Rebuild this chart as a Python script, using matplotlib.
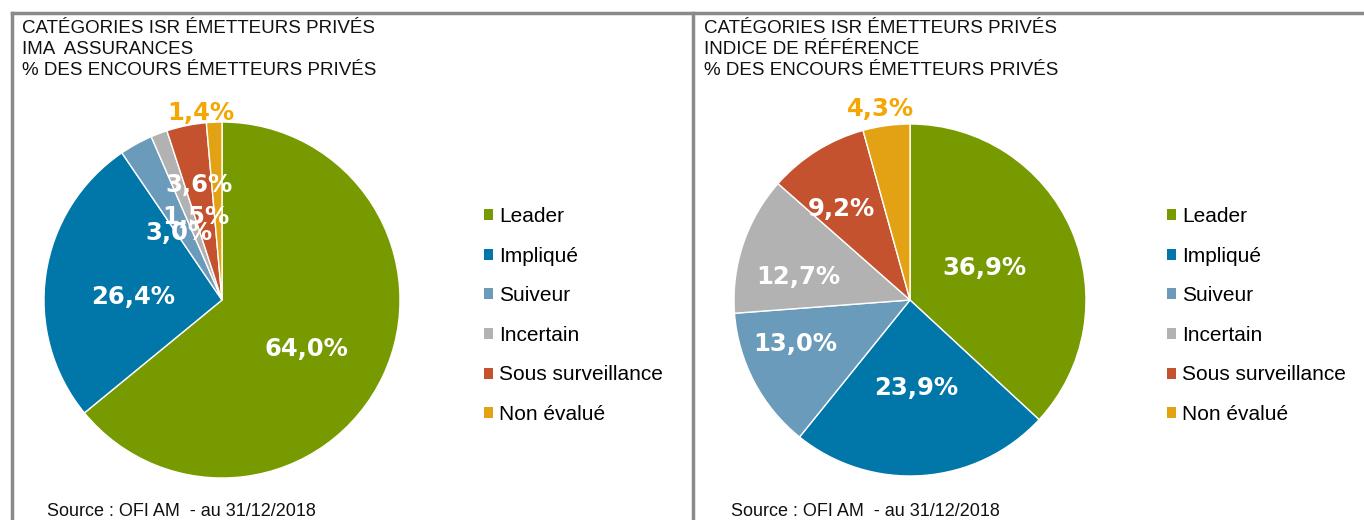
import numpy as np
import matplotlib.pyplot as plt
from matplotlib.patches import Patch
from matplotlib.lines import Line2D

categories = ["Leader", "Impliqué", "Suiveur", "Incertain", "Sous surveillance", "Non évalué"]
ima_values = [64.0, 26.4, 3.0, 1.5, 3.6, 1.4]
indice_values = [36.9, 23.9, 13.0, 12.7, 9.2, 4.3]

titles = [
    "CATÉGORIES ISR ÉMETTEURS PRIVÉS\nIMA  ASSURANCES\n% DES ENCOURS ÉMETTEURS PRIVÉS",
    "CATÉGORIES ISR ÉMETTEURS PRIVÉS\nINDICE DE RÉFÉRENCE\n% DES ENCOURS ÉMETTEURS PRIVÉS",
]
source = "Source : OFI AM  - au 31/12/2018"

colors = ["#769a00", "#0076a9", "#6a9bba", "#b2b2b2", "#c4522f", "#e2a214"]
outside_color = "#f5a600"

# label placement (radius fraction, angle tweak in degrees)
ima_lab_r = [0.55, 0.50, 0.45, 0.49, 0.66, 1.06]
ima_lab_da = [-5, 6, 4, -3, 0, 4]
ind_lab_r = [0.46, 0.50, 0.70, 0.65, 0.65, 1.10]
ind_lab_da = [0, 0, -7, 7, 5, 1]

W, H = 1364, 520
fig = plt.figure(figsize=(W / 100, H / 100), dpi=100)
fig.patch.set_facecolor("white")


def px_box(cx, cy, r):
    return [(cx - r) / W, (H - cy - r) / H, 2 * r / W, 2 * r / H]


def draw_pie(cx, cy, r, values, lab_r, lab_da):
    ax = fig.add_axes(px_box(cx, cy, r))
    wedges, _ = ax.pie(values, colors=colors, startangle=90, counterclock=False,
                       radius=1.0, wedgeprops=dict(edgecolor="white", linewidth=1.0))
    ax.set_xlim(-1, 1)
    ax.set_ylim(-1, 1)
    ax.set_aspect("auto")
    ax.axis("off")
    start = 90.0
    total = sum(values)
    for i, v in enumerate(values):
        span = 360.0 * v / total
        mid = np.radians(start - span / 2 + lab_da[i])
        start -= span
        rr = lab_r[i]
        col = outside_color if rr > 1 else "white"
        ax.text(rr * np.cos(mid), rr * np.sin(mid), f"{v:.1f}%".replace(".", ","),
                ha="center", va="center", color=col, fontsize=17.5,
                fontweight="bold", family="DejaVu Sans", clip_on=False)
    return ax


draw_pie(222, 300, 178, ima_values, ima_lab_r, ima_lab_da)
draw_pie(910, 300, 176, indice_values, ind_lab_r, ind_lab_da)

handles = [Patch(facecolor=c, edgecolor="none", label=l) for c, l in zip(colors, categories)]
for x0 in (484, 1167):
    fig.legend(handles=handles, loc="upper left", bbox_to_anchor=(x0 / W, 1 - 207 / H),
               frameon=False, prop=dict(family="Liberation Sans", size=15),
               handlelength=0.43, handleheight=0.43, handletextpad=0.3,
               labelspacing=0.99, borderaxespad=0, borderpad=0)

for x0, t in zip((22, 704), titles):
    fig.text(x0 / W, 1 - 20 / H, t, ha="left", va="top",
             fontsize=13.5, family="Liberation Sans", linespacing=1.32, color="#111111")

for x0 in (47, 731):
    fig.text(x0 / W, 1 - 511 / H, source, ha="left", va="center", fontsize=13,
             family="Liberation Sans", color="#111111")

# panel frames
frame_col = "#8a8a8a"
fig.add_artist(Line2D([12 / W, 12 / W], [0, 1 - 13 / H], color=frame_col, lw=2.5))
fig.add_artist(Line2D([693 / W, 693 / W], [0, 1 - 13 / H], color=frame_col, lw=2.5))
fig.add_artist(Line2D([12 / W, 1], [1 - 13 / H, 1 - 13 / H], color=frame_col, lw=2.5))

plt.savefig("out.png", dpi=100, facecolor="white")
